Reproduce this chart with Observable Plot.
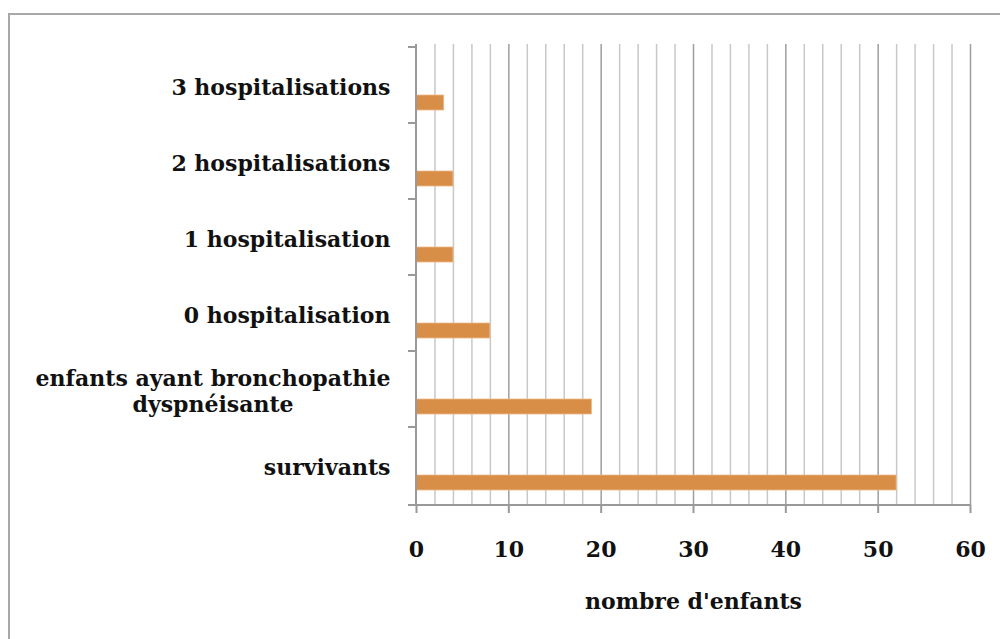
<!DOCTYPE html>
<html>
<head>
<meta charset="utf-8">
<script src="https://cdn.jsdelivr.net/npm/d3@7"></script>
<script src="https://cdn.jsdelivr.net/npm/@observablehq/plot@0.6"></script>
<style>
  body { margin: 0; background: #fff; }
  #wrap { position: relative; width: 1000px; height: 639px; overflow: hidden; background: #fff; }
  #border { position: absolute; left: 8px; top: 13px; width: 1100px; height: 800px; border: 2px solid #a8a8a8; }
  #chart { position: absolute; left: 0; top: 0; }
</style>
</head>
<body>
<div id="wrap"><div id="border"></div><div id="chart"></div></div>
<script>
// Categories, top to bottom
const categories = ["3 hospitalisations", "2 hospitalisations", "1 hospitalisation", "0 hospitalisation", "enfants ayant bronchopathie dyspnéisante", "survivants"];
const yLabels = ["3 hospitalisations", "2 hospitalisations", "1 hospitalisation", "0 hospitalisation", "enfants ayant bronchopathie\ndyspnéisante", "survivants"];
const values = [3, 4, 4, 8, 19, 52];
const xTicks = [0, 10, 20, 30, 40, 50, 60];
const minorTicks = [2, 4, 6, 8, 12, 14, 16, 18, 22, 24, 26, 28, 32, 34, 36, 38, 42, 44, 46, 48, 52, 54, 56, 58];
const xLabel = "nombre d'enfants";

const data = categories.map((c, i) => ({category: c, value: values[i]}));

const axisColor = "#999999";
const fs = 22;

function axisLines(index, scales, vals, dims) {
  const g = d3.create("svg:g").attr("stroke", axisColor).attr("stroke-width", 2).attr("fill", "none");
  const x = scales.x, y = scales.y;
  const left = x(0), right = x(60);
  const top = dims.marginTop, bottom = dims.height - dims.marginBottom;
  g.append("line").attr("x1", left).attr("x2", left).attr("y1", top).attr("y2", bottom);
  g.append("line").attr("x1", left - 8).attr("x2", right).attr("y1", bottom).attr("y2", bottom);
  for (const c of categories) {
    const yy = y(c);
    g.append("line").attr("x1", left - 8).attr("x2", left).attr("y1", yy).attr("y2", yy);
  }
  return g.node();
}

const chart = Plot.plot({
  width: 1000,
  height: 639,
  marginLeft: 416,
  marginRight: 30,
  marginTop: 44,
  marginBottom: 134,
  style: {fontFamily: "DejaVu Serif", fontSize: fs + "px", fontWeight: "bold", background: "transparent", overflow: "visible", color: "#000"},
  x: {domain: [0, 60]},
  y: {domain: categories, padding: 0, axis: null},
  marks: [
    Plot.ruleX(minorTicks, {stroke: "#c8c8c8", strokeWidth: 1.5}),
    Plot.ruleX(xTicks.slice(1), {stroke: "#9e9e9e", strokeWidth: 1.5}),
    Plot.barX(data, {x: "value", y: "category", fill: "#d88e47", stroke: "#eab98a", strokeWidth: 0.8, insetTop: 48, insetBottom: 13}),
    Plot.axisX({ticks: xTicks, tickSize: 8, tickPadding: 28, fontSize: fs, fontWeight: "bold", stroke: axisColor, fill: "#111", label: null, strokeWidth: 2}),
    Plot.text(categories, {y: d => d, text: (d, i) => yLabels[i], frameAnchor: "left", textAnchor: "end", dx: -26, dy: 1, fontSize: fs, fontWeight: "bold", lineHeight: 1.18, fill: "#111"}),
    Plot.text([xLabel], {text: d => d, frameAnchor: "bottom", dy: 103, fontSize: fs, fontWeight: "bold", fill: "#111"}),
    axisLines
  ]
});

document.getElementById("chart").appendChild(chart);

// Centre the lines of multi-line category labels within their right-aligned block
d3.select(chart).selectAll("text").each(function() {
  const ts = this.querySelectorAll("tspan");
  if (ts.length > 1) {
    const w = this.getBBox().width;
    this.setAttribute("text-anchor", "middle");
    ts.forEach(t => t.setAttribute("x", -w / 2));
  }
});
</script>
</body>
</html>
